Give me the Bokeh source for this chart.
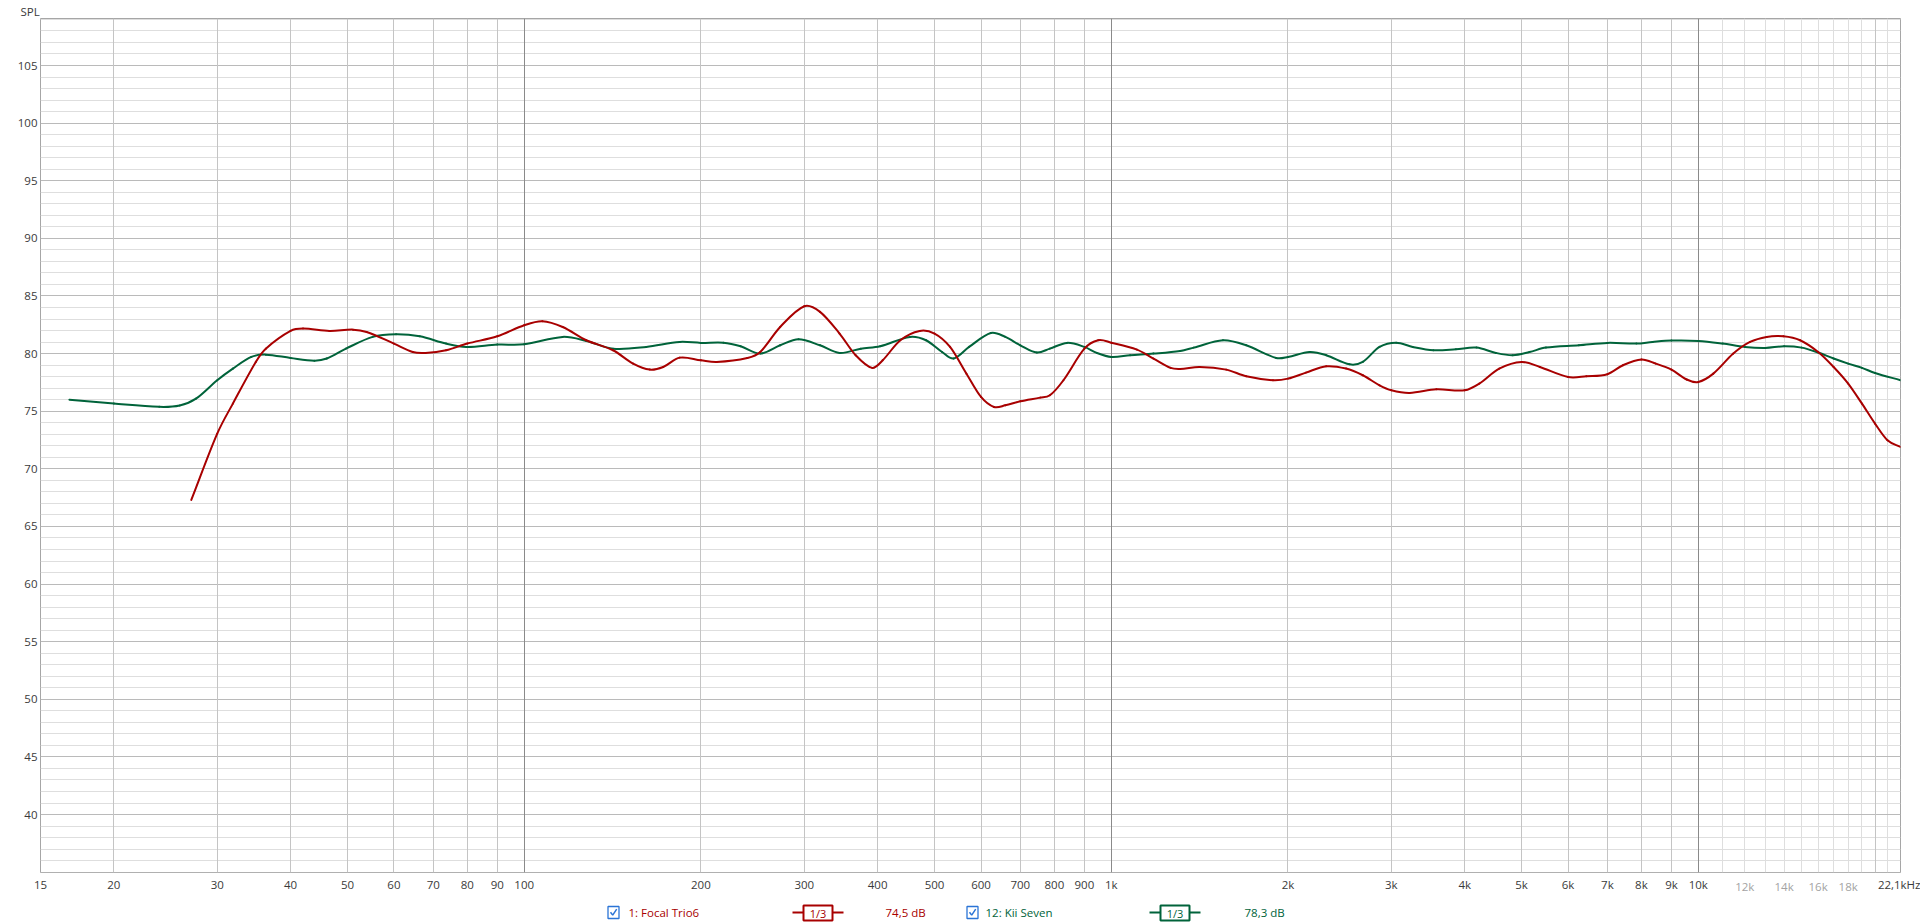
import math
from bokeh.plotting import figure
from bokeh.models import Range1d, FixedTicker, Grid, LogAxis, ColumnDataSource
from bokeh.layouts import column
from bokeh.embed import file_html
from bokeh.resources import INLINE
from bokeh.core.properties import value

# ---------------- data ----------------
focal_freq = [27.1, 30, 31.9, 34.9, 36.3, 40, 42, 46.6, 51.1, 53.9, 60, 64.6, 67.9, 73.6, 80, 90,
              100, 107.4, 116.3, 127.6, 141.7, 153.3, 163.6, 172.5, 184, 200, 212.8, 239.9, 252.4,
              272.9, 300, 319.1, 344.5, 367, 391.5, 408, 437.2, 471.7, 500, 531.4, 566.7, 600,
              631.4, 660, 700, 756.5, 786, 829, 900, 950, 1000, 1106, 1180, 1262, 1310, 1414,
              1570, 1698, 1886, 2000, 2146, 2324, 2512, 2682, 2864, 3000, 3222, 3580, 4000, 4236,
              4580, 5000, 5372, 6000, 6447, 7000, 7442, 8000, 8463, 9000, 9553, 10000, 10606,
              11470, 12248, 13075, 13960, 14904, 16000, 17000, 18000, 19000, 20000, 21000, 22100]
focal_spl = [67.3, 73.05, 75.66, 79.28, 80.43, 81.97, 82.17, 81.97, 82.08, 81.88, 80.87, 80.14,
             80.06, 80.29, 80.87, 81.50, 82.46, 82.81, 82.31, 81.16, 80.29, 79.13, 78.61, 78.84,
             79.65, 79.42, 79.28, 79.62, 80.14, 82.31, 84.11, 83.62, 81.74, 79.86, 78.76, 79.42,
             81.16, 81.97, 81.74, 80.58, 78.26, 76.24, 75.37, 75.51, 75.86, 76.18, 76.38, 77.69,
             80.43, 81.16, 80.95, 80.35, 79.57, 78.76, 78.67, 78.84, 78.61, 78.03, 77.69, 77.83,
             78.35, 78.90, 78.70, 78.12, 77.25, 76.82, 76.59, 76.90, 76.82, 77.40, 78.70, 79.28,
             78.84, 77.97, 78.03, 78.21, 78.99, 79.48, 79.13, 78.61, 77.75, 77.54, 78.26, 80.0,
             81.01, 81.45, 81.50, 81.16, 80.14, 78.84, 77.40, 75.66, 73.92, 72.48, 71.90]

kii_freq = [16.8, 20, 23.9, 25.9, 27.6, 30, 31.9, 34.3, 36.3, 40, 43.9, 46.1, 49.7, 55.2, 60.5,
            66.4, 73.6, 79.7, 90, 100, 116.3, 127.6, 141.7, 161.4, 184, 200, 218.4, 233.7, 252.4,
            272.9, 293.3, 319.1, 344.5, 374.5, 404, 454, 483.6, 515, 539, 572.6, 623.5, 660, 700,
            746.7, 786, 840.6, 900, 945, 1000, 1077, 1180, 1310, 1382, 1550, 1698, 1910, 2000,
            2178, 2324, 2546, 2682, 2864, 3057, 3263, 3537, 3865, 4189, 4520, 4830, 5157, 5502,
            6262, 7000, 7844, 8356, 9000, 10000, 11000, 12000, 13000, 14000, 15000, 16000, 17000,
            18000, 19000, 20000, 22100]
kii_spl = [76.0, 75.66, 75.38, 75.5, 76.09, 77.69, 78.70, 79.71, 79.91, 79.62, 79.39, 79.57, 80.43,
           81.45, 81.68, 81.50, 80.87, 80.58, 80.78, 80.81, 81.45, 81.10, 80.43, 80.58, 81.01,
           80.93, 80.95, 80.64, 80.0, 80.72, 81.24, 80.72, 80.06, 80.43, 80.64, 81.45, 81.16,
           80.14, 79.57, 80.58, 81.79, 81.45, 80.72, 80.09, 80.43, 80.93, 80.58, 80.06, 79.71,
           79.86, 80.0, 80.23, 80.52, 81.16, 80.72, 79.62, 79.71, 80.14, 79.86, 79.07, 79.28,
           80.58, 80.95, 80.58, 80.29, 80.38, 80.52, 80.06, 79.86, 80.14, 80.52, 80.72, 80.93,
           80.87, 81.01, 81.13, 81.10, 80.87, 80.58, 80.49, 80.64, 80.52, 80.09, 79.57, 79.13,
           78.76, 78.32, 77.69]

x_tick_values = [15, 20, 30, 40, 50, 60, 70, 80, 90, 100, 200, 300, 400, 500, 600, 700, 800, 900,
                 1000, 2000, 3000, 4000, 5000, 6000, 7000, 8000, 9000, 10000, 22100]
x_tick_labels = ["15", "20", "30", "40", "50", "60", "70", "80", "90", "100", "200", "300", "400",
                 "500", "600", "700", "800", "900", "1k", "2k", "3k", "4k", "5k", "6k", "7k", "8k",
                 "9k", "10k", "22,1kHz"]
x_light_values = [12000, 14000, 16000, 18000]
x_light_labels = ["12k", "14k", "16k", "18k"]
y_tick_values = [40, 45, 50, 55, 60, 65, 70, 75, 80, 85, 90, 95, 100, 105]
y_axis_title = "SPL"

grid_mid = [20, 30, 40, 50, 60, 70, 80, 90, 200, 300, 400, 500, 600, 700, 800, 900,
            2000, 3000, 4000, 5000, 6000, 7000, 8000, 9000, 20000]
grid_decade = [100, 1000, 10000]
grid_hf = [11000, 12000, 13000, 14000, 15000, 16000, 17000, 18000, 19000, 21000]
y_minor = [v for v in range(35, 110) if v % 5 != 0]
y_major = list(range(35, 110, 5))

series_names = ["1: Focal Trio6", "12: Kii Seven"]
series_levels = ["74,5 dB", "78,3 dB"]
smoothing_label = "1/3"

RED = "#a80000"
GREEN = "#00633a"
TXT = "#3a3a3a"
LIGHT = "#a3a3a3"
FONT = "Open Sans"
X0, X1 = 15, 22100
Y0, Y1 = 34.97, 109.08

# ---------------- main chart ----------------
p = figure(frame_width=1860, frame_height=854, x_axis_type="log",
           x_range=Range1d(X0, X1), y_range=Range1d(Y0, Y1),
           output_backend="svg", toolbar_location=None,
           min_border_left=40, min_border_right=20, min_border_top=18, min_border_bottom=31)
p.background_fill_color = "white"
p.border_fill_color = "white"
p.outline_line_color = "#a6a6a6"
p.xgrid.visible = False
p.ygrid.visible = False

p.title.text = y_axis_title
p.title.align = "left"
p.title.offset = -20
p.title.standoff = 0
p.title.text_font = FONT
p.title.text_font_size = "11.5px"
p.title.text_font_style = "normal"
p.title.text_color = TXT

def add_grid(dim, ticks, color):
    p.add_layout(Grid(dimension=dim, ticker=FixedTicker(ticks=ticks),
                      grid_line_color=color, grid_line_width=1))

add_grid(1, y_minor, "#dedede")
add_grid(0, grid_hf, "#dedede")
add_grid(1, y_major, "#bababa")
add_grid(0, grid_mid, "#c4c4c4")
add_grid(0, grid_decade, "#8a8a8a")

def smooth_segments(freq, spl):
    """Cubic Hermite curve through the read points (drawn as Bezier pieces in log-f space)."""
    u = [math.log10(f) for f in freq]
    n = len(u)
    m = []
    for i in range(n):
        a, b = max(i - 1, 0), min(i + 1, n - 1)
        m.append((spl[b] - spl[a]) / (u[b] - u[a]))
    seg = dict(x0=[], y0=[], x1=[], y1=[], cx0=[], cy0=[], cx1=[], cy1=[])
    for i in range(n - 1):
        h = u[i + 1] - u[i]
        seg["x0"].append(freq[i]); seg["y0"].append(spl[i])
        seg["x1"].append(freq[i + 1]); seg["y1"].append(spl[i + 1])
        seg["cx0"].append(10 ** (u[i] + h / 3)); seg["cy0"].append(spl[i] + m[i] * h / 3)
        seg["cx1"].append(10 ** (u[i + 1] - h / 3)); seg["cy1"].append(spl[i + 1] - m[i + 1] * h / 3)
    return ColumnDataSource(seg)

for fr, sp, col in ((kii_freq, kii_spl, GREEN), (focal_freq, focal_spl, RED)):
    p.bezier(x0="x0", y0="y0", x1="x1", y1="y1", cx0="cx0", cy0="cy0", cx1="cx1", cy1="cy1",
             source=smooth_segments(fr, sp), line_color=col, line_width=2, line_cap="round")

def style_axis(ax, color):
    ax.axis_line_color = None
    ax.major_tick_line_color = None
    ax.minor_tick_line_color = None
    ax.major_tick_out = 0
    ax.major_tick_in = 0
    ax.minor_tick_out = 0
    ax.minor_tick_in = 0
    ax.major_label_text_font = FONT
    ax.major_label_text_font_size = "11.5px"
    ax.major_label_text_color = color

style_axis(p.xaxis[0], TXT)
style_axis(p.yaxis[0], TXT)
p.xaxis[0].ticker = FixedTicker(ticks=x_tick_values)
p.xaxis[0].major_label_overrides = {v: t for v, t in zip(x_tick_values, x_tick_labels)}
p.xaxis[0].major_label_standoff = 4
p.yaxis[0].ticker = FixedTicker(ticks=y_tick_values)
p.yaxis[0].major_label_overrides = {v: str(v) for v in y_tick_values}
p.yaxis[0].major_label_standoff = 3

# second (lighter) row of frequency labels, pulled up onto the first row
ax_hf = LogAxis(ticker=FixedTicker(ticks=x_light_values),
                major_label_overrides={v: t for v, t in zip(x_light_values, x_light_labels)})
style_axis(ax_hf, LIGHT)
ax_hf.major_label_standoff = -16
p.add_layout(ax_hf, "below")

# ---------------- legend strip ----------------
# (the column aligns this strip's frame with the chart frame: pixels 40..1900)
LH = 20
leg = figure(width=1920, height=LH, x_range=Range1d(40, 1900), y_range=Range1d(LH, 0),
             output_backend="svg", toolbar_location=None, x_axis_location=None,
             y_axis_location=None, min_border=0)
leg.outline_line_color = None
leg.xgrid.visible = False
leg.ygrid.visible = False
leg.background_fill_color = "white"
leg.border_fill_color = "white"

cy = 9
colors = [RED, GREEN]
box_x = [613, 972]
name_x = [628, 985]
sym_x = [792, 1149]
lvl_x = [885, 1244]

leg.rect(x=box_x, y=[cy, cy], width=11, height=12, fill_color="white",
         line_color="#2a74d6", line_width=1.3)
leg.multi_line(xs=[[bx - 3, bx - 0.8, bx + 3.2] for bx in box_x],
               ys=[[cy - 0.2, cy + 2.6, cy - 3.4] for _ in box_x],
               line_color="#2a74d6", line_width=1.5)
leg.text(x=name_x, y=[cy, cy], text=series_names, text_color=colors,
         text_font=value(FONT), text_font_size="11.5px", text_baseline="middle", text_align="left")
leg.text(x=lvl_x, y=[cy, cy], text=series_levels, text_color=colors,
         text_font=value(FONT), text_font_size="11.5px", text_baseline="middle", text_align="left")
for sx, c in zip(sym_x, colors):
    leg.segment(x0=[sx, sx + 39], y0=[cy, cy], x1=[sx + 11, sx + 51], y1=[cy, cy],
                line_color=c, line_width=2)
    leg.rect(x=[sx + 25.5], y=[cy + 0.5], width=29, height=15, fill_color="white",
             line_color=c, line_width=2)
    leg.text(x=[sx + 25.5], y=[cy + 0.5], text=[smoothing_label], text_color=c,
             text_font=value(FONT), text_font_size="11px", text_baseline="middle",
             text_align="center")

layout = column(p, leg, spacing=0)
open("out.html", "w").write(file_html(layout, INLINE))
